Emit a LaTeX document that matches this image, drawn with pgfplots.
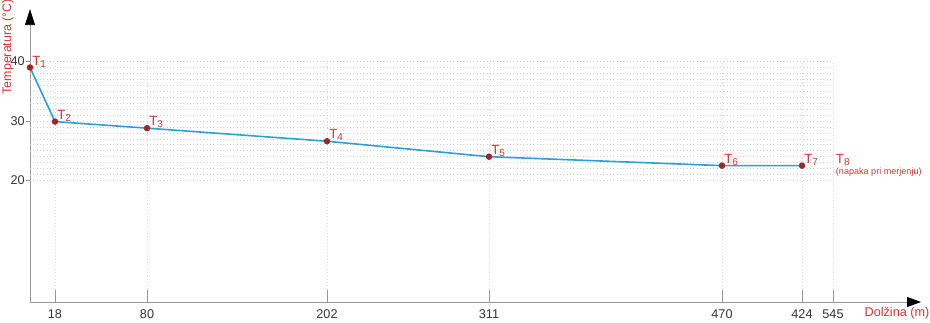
\documentclass[border=0pt]{standalone}
\usepackage{pgfplots}
\pgfplotsset{compat=1.18}
\usepackage{fontspec}
\setmainfont{Liberation Sans}
\usetikzlibrary{arrows.meta}
\definecolor{tred}{RGB}{214,52,48}
\definecolor{pred}{RGB}{160,40,36}
\definecolor{lblue}{RGB}{41,160,220}
\definecolor{axgray}{RGB}{150,150,150}
\definecolor{gridgray}{RGB}{205,205,205}
\definecolor{vgridgray}{RGB}{215,215,215}
\definecolor{gridpink}{RGB}{240,180,180}
\newcommand{\Tlab}[1]{T\raisebox{-1.5pt}{\fontsize{7.5}{8}\selectfont #1}}
\begin{document}
\begin{tikzpicture}
\begin{axis}[
 scale only axis,
 x=0.75pt, y=4.4625pt,
 xmin=0, xmax=891, ymin=-0.42, ymax=48.8,
 axis lines=left,
 axis line style={axgray, line width=0.6pt},
 x axis line style={-{Triangle[length=10.5pt,width=7.5pt,color=black]}},
 y axis line style={-{Triangle[length=12pt,width=7.5pt,color=black]}},
 xtick={25,117,297,459,692,772,803},
 xticklabels={18,80,202,311,470,424,545},
 ytick={20,30,40},
 tick align=outside,
 major tick length=3pt,
 tick style={axgray, line width=0.6pt},
 x tick style={draw=none},
 /pgf/number format/assume math mode=true,
 tick label style={font=\fontsize{9.5}{11}\selectfont, text=black!80},
 xticklabel style={yshift=1pt},
 yticklabel style={xshift=2.5pt},
 clip=false,
]
\pgfplotsinvokeforeach{20,...,39}{
  \draw[gridgray, dotted, line width=0.5pt] (axis cs:0,#1) -- (axis cs:803,#1);
}
\draw[gridpink, dotted, line width=0.5pt] (axis cs:0,40) -- (axis cs:803,40);
\pgfplotsinvokeforeach{25,117,297,459,692,772,803}{
  \draw[vgridgray, dotted, line width=0.45pt] (axis cs:#1,-0.42) -- (axis cs:#1,40);
  \draw[axgray, line width=0.6pt] (axis cs:#1,-0.42) -- ++(0,7.5pt);
}
\addplot[lblue, line width=1.2pt, mark=*, mark size=1.8pt, mark options={draw=pred, fill=pred}]
 coordinates {(0,39.0)(25,29.9)(117,28.8)(297,26.6)(459,24.0)(692,22.5)(772,22.5)};
\coordinate (O) at (axis cs:0,-0.42);
\coordinate (P1) at (axis cs:0,39.0);
\coordinate (P2) at (axis cs:25,29.9);
\coordinate (P3) at (axis cs:117,28.8);
\coordinate (P4) at (axis cs:297,26.6);
\coordinate (P5) at (axis cs:459,24.0);
\coordinate (P6) at (axis cs:692,22.5);
\coordinate (P7) at (axis cs:772,22.5);
\coordinate (P8) at (axis cs:803,22.5);
\end{axis}
\tikzset{tl/.style={anchor=base west, inner sep=0pt, text=tred, font=\fontsize{10}{12}\selectfont}}
\node[tl] at ([shift={(1.5pt,1.8pt)}]P1) {\Tlab{1}};
\node[tl] at ([shift={(1.5pt,1.8pt)}]P2) {\Tlab{2}};
\node[tl] at ([shift={(1.5pt,1.8pt)}]P3) {\Tlab{3}};
\node[tl] at ([shift={(1.5pt,1.8pt)}]P4) {\Tlab{4}};
\node[tl] at ([shift={(1.5pt,1.8pt)}]P5) {\Tlab{5}};
\node[tl] at ([shift={(1.5pt,1.8pt)}]P6) {\Tlab{6}};
\node[tl] at ([shift={(1.5pt,1.8pt)}]P7) {\Tlab{7}};
\node[tl] at ([shift={(2pt,1.8pt)}]P8) {\Tlab{8}};
\node[anchor=base west, inner sep=0pt, text=tred, font=\fontsize{6.8}{8}\selectfont] at ([shift={(2pt,-6.6pt)}]P8) {(napaka pri merjenju)};
\node[rotate=90, inner sep=0pt, text=tred, font=\fontsize{9.3}{11}\selectfont] at ([shift={(-16.5pt,191.5pt)}]O) {Temperatura (°C)};
\node[inner sep=0pt, text=tred, font=\fontsize{9.5}{11}\selectfont] at ([shift={(650.25pt,-8.25pt)}]O) {Dolžina (m)};
\pgfresetboundingbox
\path ([shift={(-22.5pt,-15pt)}]O) rectangle ([shift={(675pt,226.5pt)}]O);
\end{tikzpicture}
\end{document}
